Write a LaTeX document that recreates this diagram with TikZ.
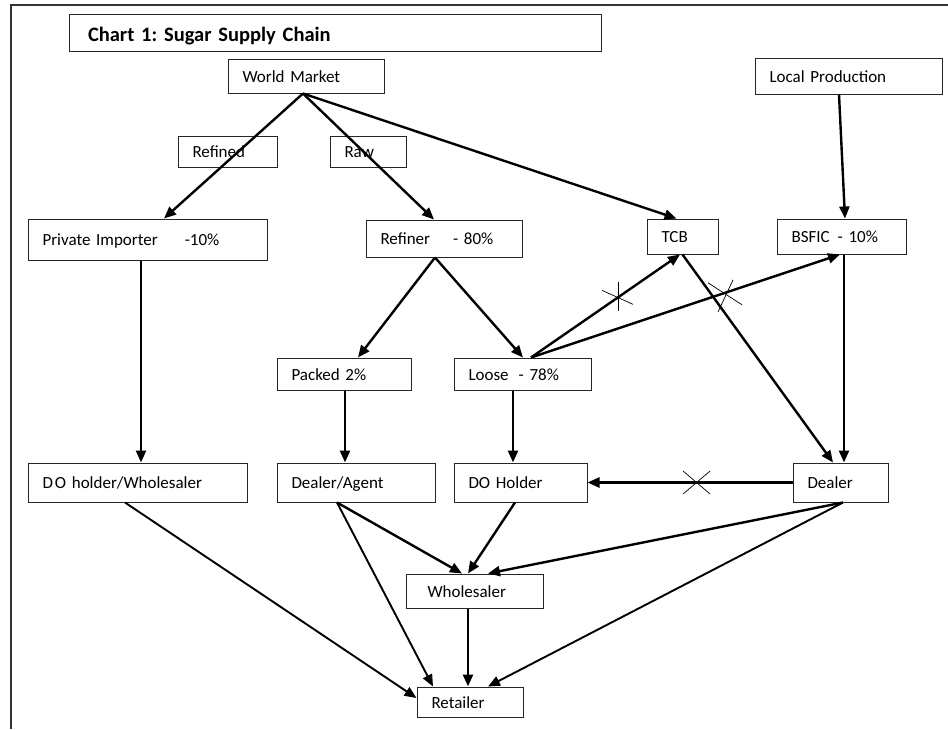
\documentclass[tikz,border=0pt]{standalone}
\usepackage{fontspec}
\setmainfont{Carlito}
\frenchspacing
\usetikzlibrary{arrows.meta, positioning}

\begin{document}
\begin{tikzpicture}[x=1pt, y=-1pt,
  box/.style={draw=black!85, line width=1pt, inner xsep=14.5pt, inner ysep=0pt,
    text height=14pt, text depth=2pt, align=left, font=\fontsize{17}{20}\selectfont},
  arr/.style={line width=2.4pt, -{Triangle[length=12pt,width=10pt]}},
  thinarr/.style={arr, line width=1.9pt},
  xmark/.style={line width=0.7pt}]
\useasboundingbox (0,0) rectangle (948,729);
% frame
\draw[line width=1.5pt, black!80] (948,5) -- (11,5) -- (11,729);

% boxes
\node[box, inner xsep=19pt, text width=494pt, minimum height=37pt, text height=20pt, text depth=2pt,
  font=\fontsize{20.5}{24}\selectfont\bfseries] (title) at (335,32.5) {Chart 1: Sugar Supply Chain};
\node[box, text width=127pt, minimum height=34pt] (wm) at (306,76) {World Market};
\node[box, text width=158pt, minimum height=36pt] (lp) at (848.5,76) {Local Production};
\node[box, text width=70pt, minimum height=31pt] (refined) at (227.5,151.5) {Refined};
\node[box, text width=47pt, minimum height=31pt] (raw) at (368,151.5) {Raw};
\node[box, text width=210pt, minimum height=41pt] (pi) at (147.5,239.5) {Private Importer\hspace{27pt}-10\%};
\node[box, text width=127pt, minimum height=37pt] (refiner) at (444,238.5) {Refiner\hspace{23pt}- 80\%};
\node[box, text width=42pt, minimum height=35pt] (tcb) at (682.5,236.5) {TCB};
\node[box, text width=100pt, minimum height=35pt] (bsfic) at (841.5,236.5) {BSFIC\hspace{8pt}- 10\%};
\node[box, text width=105pt, minimum height=32pt] (packed) at (344,374) {Packed 2\%};
\node[box, text width=108pt, minimum height=32pt] (loose) at (522.5,374) {Loose\hspace{10pt}- 78\%};
\node[box, text width=190pt, minimum height=39pt] (dowh) at (137.5,482.5) {D\hspace{2pt}O holder/Wholesaler};
\node[box, text width=129pt, minimum height=39pt] (agent) at (356,482.5) {Dealer/Agent};
\node[box, text width=104pt, minimum height=39pt] (doh) at (520.5,482.5) {DO Holder};
\node[box, text width=66pt, minimum height=39pt] (dealer) at (840.5,482.5) {Dealer};
\node[box, text width=108pt, minimum height=34pt] (whs) at (474.5,591) {\hspace*{7pt}Wholesaler};
\node[box, text width=77pt, minimum height=30pt] (retailer) at (470,702) {Retailer};

% imports and production
\draw[arr] ([xshift=-3pt]wm.south) -- ([xshift=16.5pt]pi.north);
\draw[arr] ([xshift=-3pt]wm.south) -- ([xshift=-10pt]refiner.north);
\draw[arr] ([xshift=-3pt]wm.south) -- ([xshift=-6pt]tcb.north);
\draw[arr] ([xshift=-9.5pt]lp.south) -- ([xshift=3.5pt]bsfic.north);
\draw[arr] ([xshift=-6.5pt]pi.south) -- ([xshift=3.5pt]dowh.north);
\draw[arr] ([xshift=-9pt]refiner.south) -- ([xshift=14pt]packed.north);
\draw[arr] ([xshift=-9pt]refiner.south) -- ([xshift=0.5pt]loose.north);

% crossed links
\draw[arr] ([xshift=8.5pt]loose.north) -- coordinate[pos=0.584] (x1) ([xshift=-2.5pt]tcb.south);
\draw[arr] ([xshift=8.5pt]loose.north) -- coordinate[pos=0.628] (x2) ([xshift=-1.5pt]bsfic.south);
\draw[xmark] ([yshift=15pt]x1) -- ([yshift=-14pt]x1);
\draw[xmark] ([shift={(-16pt,7pt)}]x1) -- ([shift={(15pt,-7pt)}]x1);
\draw[xmark] ([shift={(8pt,13pt)}]x2) -- ([shift={(-7pt,-19pt)}]x2);
\draw[xmark] ([shift={(-17pt,10pt)}]x2) -- ([shift={(17pt,-12pt)}]x2);

\draw[arr] (tcb.south) -- ([xshift=-7.5pt]dealer.north);
\draw[arr] ([xshift=2.5pt]bsfic.south) -- ([xshift=3.5pt]dealer.north);
\draw[arr] ([xshift=1pt]packed.south) -- ([xshift=-11pt]agent.north);
\draw[arr] ([xshift=-9.5pt]loose.south) -- ([xshift=-7.5pt]doh.north);
\draw[arr] (dealer.west) -- coordinate[pos=0.468] (x3) (doh.east);
\draw[xmark] ([shift={(-13.5pt,11.5pt)}]x3) -- ([shift={(13.5pt,-11.5pt)}]x3);
\draw[xmark] ([shift={(13.5pt,11.5pt)}]x3) -- ([shift={(-13.5pt,-11.5pt)}]x3);

% to the retail end
\draw[thinarr] ([xshift=-12.5pt]dowh.south) -- ([yshift=4pt]retailer.west);
\draw[arr] ([xshift=-19pt]agent.south) -- ([xshift=-12.5pt]whs.north);
\draw[thinarr] ([xshift=-19pt]agent.south) -- ([xshift=-37pt]retailer.north);
\draw[arr] ([xshift=-5.5pt]doh.south) -- ([xshift=-6.5pt]whs.north);
\draw[arr] ([xshift=2.5pt]dealer.south) -- ([xshift=13.5pt]whs.north);
\draw[thinarr] ([xshift=2.5pt]dealer.south) -- ([xshift=18pt]retailer.north);
\draw[arr] ([xshift=-6.5pt]whs.south) -- ([xshift=-2pt]retailer.north);
\end{tikzpicture}
\end{document}
